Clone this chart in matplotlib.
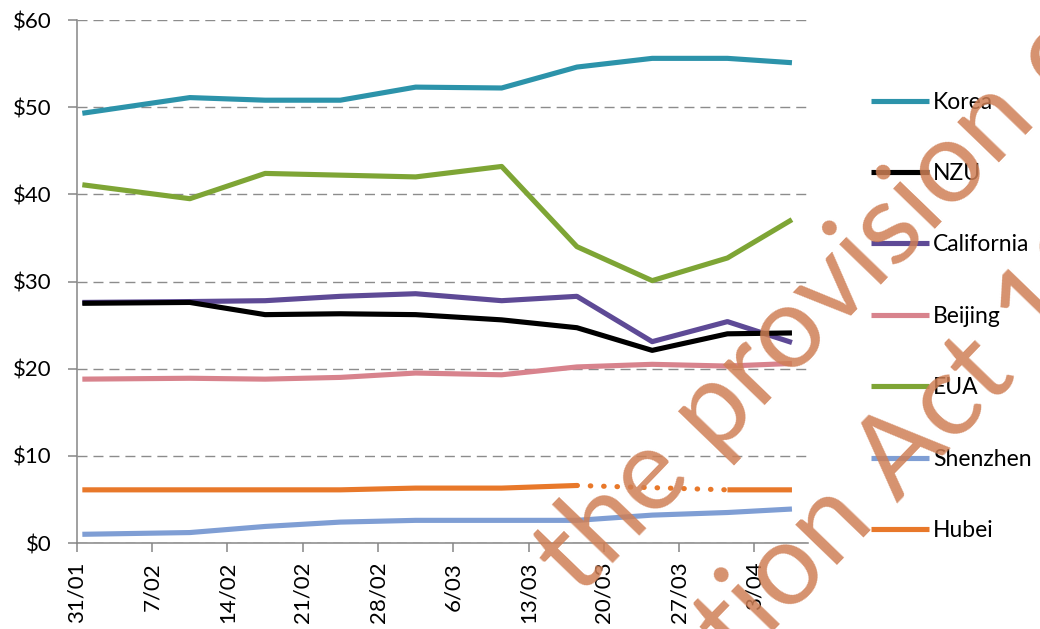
import matplotlib
matplotlib.use('Agg')
import matplotlib.pyplot as plt
import numpy as np
import pandas as pd

plt.rcParams['font.family'] = ['Lato', 'DejaVu Sans']

# observation dates (2020) and prices in NZD
dates = ['2020-01-31', '2020-02-10', '2020-02-17', '2020-02-24', '2020-03-02',
         '2020-03-10', '2020-03-17', '2020-03-24', '2020-03-31', '2020-04-06']
korea = [49.3, 51.1, 50.8, 50.8, 52.3, 52.2, 54.6, 55.6, 55.6, 55.1]
nzu = [27.5, 27.6, 26.2, 26.3, 26.2, 25.6, 24.7, 22.1, 24.0, 24.1]
california = [27.6, 27.7, 27.8, 28.3, 28.6, 27.8, 28.3, 23.1, 25.4, 23.0]
beijing = [18.8, 18.9, 18.8, 19.0, 19.5, 19.3, 20.2, 20.5, 20.3, 20.6]
eua = [41.1, 39.5, 42.4, 42.2, 42.0, 43.2, 34.0, 30.1, 32.7, 37.1]
shenzhen = [1.0, 1.2, 1.9, 2.4, 2.6, 2.6, 2.6, 3.2, 3.5, 3.9]
hubei = [6.1, 6.1, 6.1, 6.1, 6.3, 6.3, 6.6, np.nan, 6.1, 6.1]

tick_dates = ['2020-01-31', '2020-02-07', '2020-02-14', '2020-02-21', '2020-02-28',
              '2020-03-06', '2020-03-13', '2020-03-20', '2020-03-27', '2020-04-03']
tick_labels = ['31/01', '7/02', '14/02', '21/02', '28/02', '6/03', '13/03', '20/03', '27/03', '3/04']
y_ticks = [0, 10, 20, 30, 40, 50, 60]

x = pd.to_datetime(dates) + pd.Timedelta(hours=12)

fig = plt.figure(figsize=(10.4, 6.29), dpi=100)
ax = fig.add_axes([0.074, 0.1367, 0.703, 0.8315])

lw = 3.7
series = [
    ('Korea', korea, '#2C93AA', 3),
    ('NZU', nzu, '#000000', 5),
    ('California', california, '#5E4A96', 4),
    ('Beijing', beijing, '#D8838D', 3),
    ('EUA', eua, '#7EA535', 3),
    ('Shenzhen', shenzhen, '#7F9ED4', 3),
    ('Hubei', hubei, '#E8782A', 3),
]
for name, vals, col, z in series:
    ax.plot(x, vals, color=col, lw=lw, label=name, zorder=z, solid_capstyle='butt')

# Hubei gap bridged with a dotted line
hb = np.array(hubei)
ax.plot(x[[6, 8]], hb[[6, 8]], color='#E8782A', lw=lw, linestyle=(0, (0.1, 2.5)),
        dash_capstyle='round', zorder=3)

ax.set_xlim(pd.Timestamp('2020-01-31'), pd.Timestamp('2020-04-08'))
ax.set_ylim(0, 60)
ax.set_xticks(pd.to_datetime(tick_dates))
ax.set_xticklabels(tick_labels, rotation=90, fontsize=16)
ax.set_yticks(y_ticks)
ax.set_yticklabels(['${}'.format(v) for v in y_ticks], fontsize=16)

ax.yaxis.grid(True, color='#8C8C8C', lw=1.0, linestyle=(0, (7.2, 4.3)))
ax.set_axisbelow(True)
for s in ['top', 'right']:
    ax.spines[s].set_visible(False)
for s in ['left', 'bottom']:
    ax.spines[s].set_color('#868686')
    ax.spines[s].set_linewidth(1.1)
ax.tick_params(axis='both', direction='out', length=6.5, width=1.1, color='#868686')
ax.tick_params(axis='x', pad=7)
ax.tick_params(axis='y', pad=12)

leg = ax.legend(loc='center left', bbox_to_anchor=(0.829, 0.497), bbox_transform=fig.transFigure,
                frameon=False, fontsize=16.5, handlelength=2.5, handletextpad=0.2,
                labelspacing=2.2, borderaxespad=0)

# watermark (positions in pixels from top-left)
wm = dict(fontsize=83, rotation=46, rotation_mode='anchor', ha='left', va='baseline',
          color='#CF7F55', alpha=0.85, zorder=10)
fig.text(579 / 1040, 1 - 598 / 629, 'the provision of', **wm)
fig.text(463 / 1040, 1 - 952 / 629, 'Information Act 1982', **wm)

fig.savefig('out.png', dpi=100)
